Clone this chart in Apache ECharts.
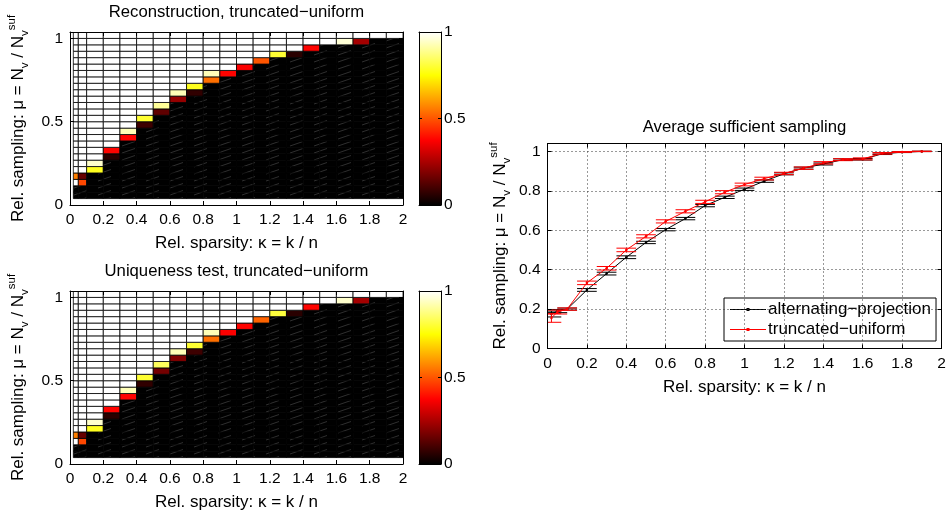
<!DOCTYPE html>
<html><head><meta charset="utf-8"><title>Sufficient sampling</title>
<script src="https://cdn.jsdelivr.net/npm/echarts@6/dist/echarts.min.js"></script>
<style>html,body{margin:0;padding:0;background:#fff}#chart{width:950px;height:515px}</style>
</head><body><div id="chart"></div>
<script>
// Column edges (relative sparsity kappa) and row edges (relative sampling mu) of the phase diagrams
const kappaEdges = [0.02, 0.05, 0.1, 0.2, 0.3, 0.4, 0.5, 0.6, 0.7, 0.8, 0.9, 1.0, 1.1, 1.2, 1.3, 1.4, 1.5, 1.6, 1.7, 1.8, 1.9, 2.0];
const muEdges = [0.0385, 0.0769, 0.1154, 0.1538, 0.1923, 0.2308, 0.2692, 0.3077, 0.3462, 0.3846, 0.4231, 0.4615, 0.5,
  0.5385, 0.5769, 0.6154, 0.6538, 0.6923, 0.7308, 0.7692, 0.8077, 0.8462, 0.8846, 0.9231, 0.9615, 1.0, 1.0385];

// Success rate per column, listed from the lowest mu row upwards
const reconRate = [
  [0,0,1,0.56,1,1,1,1,1,1,1,1,1,1,1,1,1,1,1,1,1,1,1,1,1,1],
  [0,0,0.48,0.15,1,1,1,1,1,1,1,1,1,1,1,1,1,1,1,1,1,1,1,1,1,1],
  [0,0,0,0,0.78,0.95,1,1,1,1,1,1,1,1,1,1,1,1,1,1,1,1,1,1,1,1],
  [0,0,0,0,0,0,0.06,0.38,1,1,1,1,1,1,1,1,1,1,1,1,1,1,1,1,1,1],
  [0,0,0,0,0,0,0,0,0,0.38,0.93,1,1,1,1,1,1,1,1,1,1,1,1,1,1,1],
  [0,0,0,0,0,0,0,0,0,0,0,0.09,0.8,1,1,1,1,1,1,1,1,1,1,1,1,1],
  [0,0,0,0,0,0,0,0,0,0,0,0,0,0.14,0.9,1,1,1,1,1,1,1,1,1,1,1],
  [0,0,0,0,0,0,0,0,0,0,0,0,0,0,0,0.22,0.93,1,1,1,1,1,1,1,1,1],
  [0,0,0,0,0,0,0,0,0,0,0,0,0,0,0,0,0.07,0.78,1,1,1,1,1,1,1,1],
  [0,0,0,0,0,0,0,0,0,0,0,0,0,0,0,0,0,0,0.54,0.93,1,1,1,1,1,1],
  [0,0,0,0,0,0,0,0,0,0,0,0,0,0,0,0,0,0,0,0.38,1,1,1,1,1,1],
  [0,0,0,0,0,0,0,0,0,0,0,0,0,0,0,0,0,0,0,0,0.37,1,1,1,1,1],
  [0,0,0,0,0,0,0,0,0,0,0,0,0,0,0,0,0,0,0,0,0,0.5,1,1,1,1],
  [0,0,0,0,0,0,0,0,0,0,0,0,0,0,0,0,0,0,0,0,0,0,0.8,1,1,1],
  [0,0,0,0,0,0,0,0,0,0,0,0,0,0,0,0,0,0,0,0,0,0,0.06,1,1,1],
  [0,0,0,0,0,0,0,0,0,0,0,0,0,0,0,0,0,0,0,0,0,0,0,0.38,1,1],
  [0,0,0,0,0,0,0,0,0,0,0,0,0,0,0,0,0,0,0,0,0,0,0,0,1,1],
  [0,0,0,0,0,0,0,0,0,0,0,0,0,0,0,0,0,0,0,0,0,0,0,0,0.96,1],
  [0,0,0,0,0,0,0,0,0,0,0,0,0,0,0,0,0,0,0,0,0,0,0,0,0.24,1],
  [0,0,0,0,0,0,0,0,0,0,0,0,0,0,0,0,0,0,0,0,0,0,0,0,0,1],
  [0,0,0,0,0,0,0,0,0,0,0,0,0,0,0,0,0,0,0,0,0,0,0,0,0,1]
];
const uniqRate = [
  [0,0,1,0.56,1,1,1,1,1,1,1,1,1,1,1,1,1,1,1,1,1,1,1,1,1,1],
  [0,0,0.48,0.15,1,1,1,1,1,1,1,1,1,1,1,1,1,1,1,1,1,1,1,1,1,1],
  [0,0,0,0,0.78,0.95,1,1,1,1,1,1,1,1,1,1,1,1,1,1,1,1,1,1,1,1],
  [0,0,0,0,0,0,0.06,0.38,1,1,1,1,1,1,1,1,1,1,1,1,1,1,1,1,1,1],
  [0,0,0,0,0,0,0,0,0,0.38,0.93,1,1,1,1,1,1,1,1,1,1,1,1,1,1,1],
  [0,0,0,0,0,0,0,0,0,0,0,0.07,0.8,1,1,1,1,1,1,1,1,1,1,1,1,1],
  [0,0,0,0,0,0,0,0,0,0,0,0,0,0.17,0.84,1,1,1,1,1,1,1,1,1,1,1],
  [0,0,0,0,0,0,0,0,0,0,0,0,0,0,0,0.19,0.93,1,1,1,1,1,1,1,1,1],
  [0,0,0,0,0,0,0,0,0,0,0,0,0,0,0,0,0.09,0.8,1,1,1,1,1,1,1,1],
  [0,0,0,0,0,0,0,0,0,0,0,0,0,0,0,0,0,0,0.54,0.93,1,1,1,1,1,1],
  [0,0,0,0,0,0,0,0,0,0,0,0,0,0,0,0,0,0,0,0.37,1,1,1,1,1,1],
  [0,0,0,0,0,0,0,0,0,0,0,0,0,0,0,0,0,0,0,0,0.38,1,1,1,1,1],
  [0,0,0,0,0,0,0,0,0,0,0,0,0,0,0,0,0,0,0,0,0,0.52,1,1,1,1],
  [0,0,0,0,0,0,0,0,0,0,0,0,0,0,0,0,0,0,0,0,0,0,0.81,1,1,1],
  [0,0,0,0,0,0,0,0,0,0,0,0,0,0,0,0,0,0,0,0,0,0,0.06,1,1,1],
  [0,0,0,0,0,0,0,0,0,0,0,0,0,0,0,0,0,0,0,0,0,0,0,0.38,1,1],
  [0,0,0,0,0,0,0,0,0,0,0,0,0,0,0,0,0,0,0,0,0,0,0,0,1,1],
  [0,0,0,0,0,0,0,0,0,0,0,0,0,0,0,0,0,0,0,0,0,0,0,0,0.95,1],
  [0,0,0,0,0,0,0,0,0,0,0,0,0,0,0,0,0,0,0,0,0,0,0,0,0.24,1],
  [0,0,0,0,0,0,0,0,0,0,0,0,0,0,0,0,0,0,0,0,0,0,0,0,0,1],
  [0,0,0,0,0,0,0,0,0,0,0,0,0,0,0,0,0,0,0,0,0,0,0,0,0,1]
];

// Average sufficient sampling with its spread, per sparsity level
const kappaPts = [0.02, 0.05, 0.1, 0.2, 0.3, 0.4, 0.5, 0.6, 0.7, 0.8, 0.9, 1.0, 1.1, 1.2, 1.3, 1.4, 1.5, 1.6, 1.7, 1.8, 1.9];
const altProjMean = [0.175, 0.19, 0.2, 0.297, 0.38, 0.463, 0.538, 0.603, 0.659, 0.725, 0.767, 0.808, 0.849, 0.886, 0.915, 0.936, 0.958, 0.96, 0.988, 0.996, 1.0];
const altProjErr = [0.015, 0.008, 0.005, 0.007, 0.007, 0.007, 0.006, 0.006, 0.006, 0.006, 0.006, 0.006, 0.006, 0.005, 0.005, 0.005, 0.004, 0.004, 0.004, 0.002, 0.001];
const truncUniMean = [0.155, 0.185, 0.2, 0.333, 0.407, 0.5, 0.569, 0.645, 0.696, 0.744, 0.793, 0.832, 0.862, 0.888, 0.915, 0.942, 0.958, 0.962, 0.99, 0.997, 1.0];
const truncUniErr = [0.022, 0.01, 0.006, 0.009, 0.009, 0.009, 0.008, 0.008, 0.008, 0.008, 0.008, 0.007, 0.007, 0.006, 0.006, 0.006, 0.005, 0.005, 0.004, 0.002, 0.001];

const xTicks = ['0', '0.2', '0.4', '0.6', '0.8', '1', '1.2', '1.4', '1.6', '1.8', '2'];

const FONT = '"Liberation Sans", Arial, Helvetica, sans-serif';
const CAP = 0.05;
const MU_TOP = 1.0385;
// "hot" colour map
const hotStops = ['#000000', '#550000', '#aa0000', '#ff0000', '#ff5500', '#ffaa00', '#ffff00', '#ffff80', '#ffffff'];

// faint diagonal dash texture used on the fully failing (black) cells
const hatchCanvas = document.createElement('canvas');
hatchCanvas.width = 24; hatchCanvas.height = 7;
(function () {
  const g = hatchCanvas.getContext('2d');
  g.fillStyle = '#000'; g.fillRect(0, 0, 24, 7);
  g.strokeStyle = 'rgba(150,150,150,0.45)'; g.lineWidth = 0.7;
  g.beginPath(); g.moveTo(2, 6); g.lineTo(15, 1.5); g.stroke();
})();
const hatch = { image: hatchCanvas, repeat: 'repeat' };

function cells(rate) {
  const out = [];
  rate.forEach((col, c) => col.forEach((v, r) => {
    out.push([kappaEdges[c], kappaEdges[c + 1], muEdges[r], muEdges[r + 1], v]);
  }));
  return out;
}

function renderCell(params, api) {
  const a = api.coord([api.value(0), api.value(3)]);
  const b = api.coord([api.value(1), api.value(2)]);
  const v = api.value(4);
  return {
    type: 'rect',
    shape: { x: a[0], y: a[1], width: b[0] - a[0], height: b[1] - a[1] },
    style: { fill: v === 0 ? hatch : api.visual('color'), stroke: '#000', lineWidth: 0.8 }
  };
}

function renderBar(params, api) {
  const a = api.coord([0, 1]);
  const b = api.coord([1, 0]);
  return {
    type: 'rect',
    shape: { x: a[0], y: a[1], width: b[0] - a[0], height: b[1] - a[1] },
    style: {
      fill: new echarts.graphic.LinearGradient(0, 1, 0, 0,
        hotStops.map((c, i) => ({ offset: i / (hotStops.length - 1), color: c })))
    }
  };
}

function errRender(color) {
  return function (params, api) {
    const x = api.value(0), y = api.value(1), e = api.value(2);
    const lo = api.coord([x, y - e]), hi = api.coord([x, y + e]);
    const l0 = api.coord([x - CAP, y - e]), r0 = api.coord([x + CAP, y - e]);
    const l1 = api.coord([x - CAP, y + e]), r1 = api.coord([x + CAP, y + e]);
    const st = { stroke: color, lineWidth: 1 };
    return {
      type: 'group', children: [
        { type: 'line', shape: { x1: lo[0], y1: lo[1], x2: hi[0], y2: hi[1] }, style: st },
        { type: 'line', shape: { x1: l0[0], y1: l0[1], x2: r0[0], y2: r0[1] }, style: st },
        { type: 'line', shape: { x1: l1[0], y1: l1[1], x2: r1[0], y2: r1[1] }, style: st }
      ]
    };
  };
}

const labelStyle = { color: '#000', fontSize: 15.5, fontFamily: FONT };
const lineStyle = { color: '#000', width: 1 };
const nameRich = {
  s: { fontSize: 11.5, lineHeight: 13, verticalAlign: 'bottom', fontFamily: FONT, color: '#000' },
  p: { fontSize: 11.5, lineHeight: 13, verticalAlign: 'top', fontFamily: FONT, color: '#000' }
};
const xName = 'Rel. sparsity: κ = k / n';
const yName = 'Rel. sampling: μ = N{s|v} / N{s|v}{p|suf}';

function xAxisPair(grid, min, max, interval, withLabels) {
  const base = {
    gridIndex: grid, type: 'value', min: min, max: max, interval: interval, z: 5,
    axisLine: { show: true, onZero: false, lineStyle: lineStyle },
    splitLine: { show: false }
  };
  const bottom = Object.assign({}, base, {
    position: 'bottom',
    axisTick: { show: withLabels, inside: true, length: 4, lineStyle: lineStyle },
    axisLabel: { show: withLabels, margin: 7, ...labelStyle, formatter: v => xTicks[Math.round(v / 0.2)] }
  });
  if (withLabels) {
    Object.assign(bottom, {
      name: xName, nameLocation: 'middle', nameGap: 30,
      nameTextStyle: { fontSize: 17, color: '#000', fontFamily: FONT }
    });
  }
  const top = Object.assign({}, base, {
    position: 'top',
    axisTick: { show: withLabels, inside: true, length: 4, lineStyle: lineStyle },
    axisLabel: { show: false }
  });
  return [bottom, top];
}

function yAxisPair(grid, max, interval, leftLabels, rightLabels, nameGap, tickLen) {
  const base = {
    gridIndex: grid, type: 'value', min: 0, max: max, interval: interval, z: 5,
    axisLine: { show: true, onZero: false, lineStyle: lineStyle },
    axisTick: { show: true, inside: true, length: tickLen, lineStyle: lineStyle },
    splitLine: { show: false }
  };
  const left = Object.assign({}, base, {
    position: 'left',
    axisLabel: { show: leftLabels, margin: 7, showMaxLabel: false, ...labelStyle }
  });
  if (leftLabels) {
    Object.assign(left, {
      name: yName, nameLocation: 'middle', nameGap: nameGap, nameRotate: 90,
      nameTextStyle: { fontSize: 17, color: '#000', fontFamily: FONT, lineHeight: 25, rich: nameRich }
    });
  }
  const right = Object.assign({}, base, {
    position: 'right',
    axisLabel: { show: rightLabels, margin: 3, showMaxLabel: true, ...labelStyle }
  });
  return [left, right];
}

const grids = [
  { left: 70, top: 32, width: 333, height: 173 },
  { left: 419, top: 32, width: 22, height: 173 },
  { left: 70, top: 291, width: 333, height: 173 },
  { left: 419, top: 291, width: 22, height: 173 },
  { left: 547.5, top: 143.5, width: 394, height: 205 }
];

const xAxes = [].concat(
  xAxisPair(0, 0, 2, 0.2, true),
  xAxisPair(1, 0, 1, 1, false),
  xAxisPair(2, 0, 2, 0.2, true),
  xAxisPair(3, 0, 1, 1, false),
  xAxisPair(4, 0, 2, 0.2, true)
);
const yAxes = [].concat(
  yAxisPair(0, MU_TOP, 0.5, true, false, 39, 4),
  yAxisPair(1, 1, 0.5, false, true, 0, 3),
  yAxisPair(2, MU_TOP, 0.5, true, false, 39, 4),
  yAxisPair(3, 1, 0.5, false, true, 0, 3),
  yAxisPair(4, 1.04, 0.2, true, false, 35, 4)
);
// dotted grid on the averaged-sampling panel
xAxes[8].splitLine = { show: true, lineStyle: { color: '#333', width: 1, type: [1, 3] } };
yAxes[8].splitLine = { show: true, lineStyle: { color: '#333', width: 1, type: [1, 3] } };

const apName = 'alternating−projection';
const tuName = 'truncated−uniform';

const option = {
  animation: false,
  backgroundColor: '#fff',
  textStyle: { fontFamily: FONT },
  grid: grids,
  xAxis: xAxes,
  yAxis: yAxes,
  visualMap: {
    show: false, type: 'continuous', min: 0, max: 1, dimension: 4,
    seriesIndex: [0, 2], inRange: { color: hotStops }
  },
  legend: {
    data: [apName, tuName],
    icon: 'path://M0,4.6h36v0.9h-36z M16.5,3.5h3v3h-3z',
    orient: 'vertical', left: 724, top: 298,
    itemWidth: 36, itemHeight: 12, itemGap: 3,
    padding: [3, 5, 3, 6],
    borderColor: '#000', borderWidth: 1, backgroundColor: '#fff',
    textStyle: { fontSize: 17, color: '#000', fontFamily: FONT, padding: [0, 0, 0, -3] }
  },
  graphic: [
    { type: 'text', x: 236.5, y: 12, style: { text: 'Reconstruction, truncated−uniform', fontSize: 16.7, fontFamily: FONT, fill: '#000', align: 'center', verticalAlign: 'middle' } },
    { type: 'text', x: 236.5, y: 271, style: { text: 'Uniqueness test, truncated−uniform', fontSize: 16.7, fontFamily: FONT, fill: '#000', align: 'center', verticalAlign: 'middle' } },
    { type: 'text', x: 744.5, y: 127, style: { text: 'Average sufficient sampling', fontSize: 16.7, fontFamily: FONT, fill: '#000', align: 'center', verticalAlign: 'middle' } }
  ],
  series: [
    { type: 'custom', name: 'recon', xAxisIndex: 0, yAxisIndex: 0, renderItem: renderCell,
      encode: { x: [0, 1], y: [2, 3] }, data: cells(reconRate), clip: true, z: 2 },
    { type: 'custom', name: 'reconBar', xAxisIndex: 2, yAxisIndex: 2, renderItem: renderBar,
      data: [[0, 0]], clip: true, z: 2 },
    { type: 'custom', name: 'uniq', xAxisIndex: 4, yAxisIndex: 4, renderItem: renderCell,
      encode: { x: [0, 1], y: [2, 3] }, data: cells(uniqRate), clip: true, z: 2 },
    { type: 'custom', name: 'uniqBar', xAxisIndex: 6, yAxisIndex: 6, renderItem: renderBar,
      data: [[0, 0]], clip: true, z: 2 },
    { type: 'custom', name: 'apErr', xAxisIndex: 8, yAxisIndex: 8, renderItem: errRender('#000'),
      data: kappaPts.map((k, i) => [k, altProjMean[i], altProjErr[i]]), clip: true, z: 3 },
    { type: 'line', name: apName, xAxisIndex: 8, yAxisIndex: 8,
      data: kappaPts.map((k, i) => [k, altProjMean[i]]),
      symbol: 'circle', symbolSize: 2.5, showSymbol: true,
      lineStyle: { color: '#000', width: 1 }, itemStyle: { color: '#000' }, z: 4 },
    { type: 'custom', name: 'tuErr', xAxisIndex: 8, yAxisIndex: 8, renderItem: errRender('#ff0000'),
      data: kappaPts.map((k, i) => [k, truncUniMean[i], truncUniErr[i]]), clip: true, z: 5 },
    { type: 'line', name: tuName, xAxisIndex: 8, yAxisIndex: 8,
      data: kappaPts.map((k, i) => [k, truncUniMean[i]]),
      symbol: 'circle', symbolSize: 2.5, showSymbol: true,
      lineStyle: { color: '#ff0000', width: 1 }, itemStyle: { color: '#ff0000' }, z: 6 }
  ]
};

const chart = echarts.init(document.getElementById('chart'), null, { renderer: 'canvas' });
chart.setOption(option);
</script>
</body></html>
